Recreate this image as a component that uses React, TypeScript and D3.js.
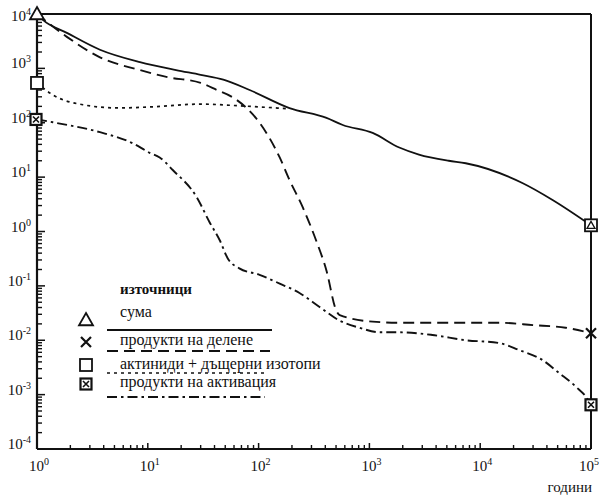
import React from "react";
import * as d3 from "d3";

type Pt = [number, number];

const sumData: Pt[] = [
  [1, 10000], [1.13, 7800], [1.86, 4500], [3.7, 2200], [8.5, 1300], [18, 930],
  [30, 760], [48, 620], [83, 400], [190, 186], [410, 123], [575, 91],
  [1070, 65], [1860, 35], [2800, 26], [5200, 20], [7400, 18], [24000, 7.8],
  [45000, 3.8], [100000, 1.3],
];

const fissionData: Pt[] = [
  [1, 10000], [1.86, 3800], [3.7, 1600], [8.5, 930], [15, 690], [30, 540],
  [42, 400], [59, 290], [78, 186], [102, 100], [155, 23], [190, 8.9],
  [250, 2.8], [330, 0.69], [410, 0.19], [500, 0.036], [540, 0.029],
  [1070, 0.022], [1860, 0.021], [3700, 0.021], [7400, 0.021], [15000, 0.021],
  [30000, 0.019], [59000, 0.017], [100000, 0.0135],
];

const actinideData: Pt[] = [
  [1, 540], [1.39, 325], [2.6, 214], [5.4, 187], [10.3, 195], [30, 220],
  [67, 205], [190, 180],
];

const activationData: Pt[] = [
  [1, 115], [1.39, 102], [3.7, 67], [7.3, 42], [10.4, 28], [12.8, 23],
  [16.8, 13.5], [27.6, 4.3], [36, 1.5], [44.6, 0.69],
  [52.7, 0.32], [67, 0.21], [102, 0.16], [155, 0.11], [234, 0.074],
  [355, 0.041], [537, 0.023], [813, 0.017], [1230, 0.014], [1860, 0.014],
  [3700, 0.0125], [7450, 0.01], [14800, 0.0089], [22400, 0.0066],
  [36000, 0.0044], [51500, 0.0025], [73000, 0.0014], [91600, 0.00087],
  [100000, 0.00065],
];

const xTickExps = [0, 1, 2, 3, 4, 5];
const yTickExps = [4, 3, 2, 1, 0, -1, -2, -3, -4];

const legendTitle = "източници";
const legendLabels = [
  "сума",
  "продукти на делене",
  "актиниди + дъщерни изотопи",
  "продукти на активация",
];
const xAxisTitle = "години";

const FONT = "'Liberation Serif', 'Times New Roman', 'DejaVu Serif', serif";

function Marker({ kind, x, y }: { kind: string; x: number; y: number }) {
  const sw = 1.8;
  if (kind === "triangle") {
    const s = 7;
    return (
      <path
        d={`M${x},${y - s} L${x + s},${y + s * 0.75} L${x - s},${y + s * 0.75} Z`}
        fill="white"
        stroke="#111"
        strokeWidth={sw}
      />
    );
  }
  if (kind === "cross") {
    const s = 5;
    return (
      <path
        d={`M${x - s},${y - s} L${x + s},${y + s} M${x - s},${y + s} L${x + s},${y - s}`}
        stroke="#111"
        strokeWidth={2.2}
      />
    );
  }
  if (kind === "square") {
    const s = 6;
    return <rect x={x - s} y={y - s} width={2 * s} height={2 * s} fill="white" stroke="#111" strokeWidth={sw} />;
  }
  if (kind === "squarex") {
    const s = 5.5;
    const i = 3;
    return (
      <g>
        <rect x={x - s} y={y - s} width={2 * s} height={2 * s} fill="white" stroke="#111" strokeWidth={2.2} />
        <path
          d={`M${x - i},${y - i} L${x + i},${y + i} M${x - i},${y + i} L${x + i},${y - i}`}
          stroke="#111"
          strokeWidth={1.6}
        />
      </g>
    );
  }
  return null;
}

export default function App() {
  const width = 601;
  const height = 499;
  const x = d3.scaleLog().domain([1, 1e5]).range([37, 591]);
  const y = d3.scaleLog().domain([1e-4, 1e4]).range([449, 14]);

  const lg = d3.line<Pt>().x((d) => x(d[0])).y((d) => y(d[1])).curve(d3.curveMonotoneX);

  const xMinor: number[] = [];
  for (let e = 0; e < 5; e++) for (let k = 2; k <= 9; k++) xMinor.push(k * Math.pow(10, e));
  const yMinor: number[] = [];
  for (let e = -4; e < 4; e++) for (let k = 2; k <= 9; k++) yMinor.push(k * Math.pow(10, e));

  const styles = [
    { dash: undefined as string | undefined, w: 1.8 },
    { dash: "11,6", w: 1.9 },
    { dash: "3,4", w: 1.7 },
    { dash: "10,4,2.5,4", w: 1.9 },
  ];
  const legendMarkers = ["triangle", "cross", "square", "squarex"];
  const legendTextY = [317, 345, 369, 387];
  const legendMarkerY = [320, 342, 365, 384];
  const legendLineY = [330, 351, 373, 397];
  const legendLineX2 = [272, 270, 266, 265];

  const sumEnd = sumData[sumData.length - 1];
  const tx = x(sumEnd[0]);
  const ty = y(sumEnd[1]);

  return (
    <svg
      width={width}
      height={height}
      style={{ position: "absolute", left: 0, top: 0, background: "white", fontFamily: FONT }}
    >
      <rect width={width} height={height} fill="white" />
      {/* curves */}
      <path d={lg(actinideData) || ""} fill="none" stroke="#111" strokeWidth={styles[2].w} strokeDasharray={styles[2].dash} />
      <path d={lg(activationData) || ""} fill="none" stroke="#111" strokeWidth={styles[3].w} strokeDasharray={styles[3].dash} />
      <path d={lg(fissionData) || ""} fill="none" stroke="#111" strokeWidth={styles[1].w} strokeDasharray={styles[1].dash} />
      <path d={lg(sumData) || ""} fill="none" stroke="#111" strokeWidth={styles[0].w} />

      {/* frame */}
      <line x1={x(1)} x2={x(1e5)} y1={y(1e4)} y2={y(1e4)} stroke="#111" strokeWidth={2} />
      <line x1={x(1e5)} x2={x(1e5)} y1={y(1e4)} y2={y(1e-4)} stroke="#111" strokeWidth={2} />
      <line x1={x(1)} x2={x(1)} y1={y(1e4)} y2={y(1e-4)} stroke="#111" strokeWidth={2.2} />
      <line x1={x(1)} x2={x(1e5)} y1={y(1e-4)} y2={y(1e-4)} stroke="#111" strokeWidth={2.2} />

      {/* y ticks */}
      {yMinor.map((v) => (
        <line key={"ym" + v} x1={x(1)} x2={x(1) + 5} y1={y(v)} y2={y(v)} stroke="#111" strokeWidth={1.4} />
      ))}
      {yTickExps.map((e) => (
        <line key={"yM" + e} x1={x(1)} x2={x(1) + 8} y1={y(Math.pow(10, e))} y2={y(Math.pow(10, e))} stroke="#111" strokeWidth={1.5} />
      ))}
      {yTickExps.map((e) => (
        <text
          key={"yl" + e}
          x={31}
          y={Math.max(y(Math.pow(10, e)) - 5, 16) + 5}
          textAnchor="end"
          fontSize={15}
          fill="#111"
        >
          10
          <tspan dy={-6} fontSize={10}>{String(e)}</tspan>
        </text>
      ))}

      {/* x ticks */}
      {xMinor.map((v) => (
        <line key={"xm" + v} x1={x(v)} x2={x(v)} y1={y(1e-4)} y2={y(1e-4) - 4} stroke="#111" strokeWidth={1.4} />
      ))}
      {xTickExps.map((e) => (
        <line key={"xM" + e} x1={x(Math.pow(10, e))} x2={x(Math.pow(10, e))} y1={y(1e-4)} y2={y(1e-4) - 6} stroke="#111" strokeWidth={1.5} />
      ))}
      {xTickExps.map((e) => (
        <text key={"xl" + e} x={Math.min(x(Math.pow(10, e)) + 2, 589)} y={471} textAnchor="middle" fontSize={15} fill="#111">
          10
          <tspan dy={-6} fontSize={10}>{String(e)}</tspan>
        </text>
      ))}
      <text x={592} y={492} textAnchor="end" fontSize={15} fill="#111">{xAxisTitle}</text>

      {/* end markers */}
      <Marker kind="triangle" x={x(1)} y={y(sumData[0][1])} />
      <Marker kind="square" x={x(1)} y={y(actinideData[0][1])} />
      <Marker kind="squarex" x={x(1) - 1} y={y(activationData[0][1])} />
      <Marker kind="square" x={tx} y={ty} />
      <path
        d={`M${tx},${ty - 4} L${tx + 4},${ty + 3} L${tx - 4},${ty + 3} Z`}
        fill="none"
        stroke="#111"
        strokeWidth={1.3}
      />
      <Marker kind="cross" x={x(1e5)} y={y(fissionData[fissionData.length - 1][1])} />
      <Marker kind="squarex" x={x(1e5)} y={y(activationData[activationData.length - 1][1])} />

      {/* legend */}
      <text x={120} y={294} fontSize={15} fontWeight="bold" fill="#111">{legendTitle}</text>
      {legendLabels.map((lab, i) => (
        <g key={lab}>
          <Marker kind={legendMarkers[i]} x={86} y={legendMarkerY[i]} />
          <text x={120} y={legendTextY[i]} fontSize={16} fill="#111">{lab}</text>
          <line
            x1={107}
            x2={legendLineX2[i]}
            y1={legendLineY[i]}
            y2={legendLineY[i]}
            stroke="#111"
            strokeWidth={styles[i].w}
            strokeDasharray={styles[i].dash}
          />
        </g>
      ))}
    </svg>
  );
}
